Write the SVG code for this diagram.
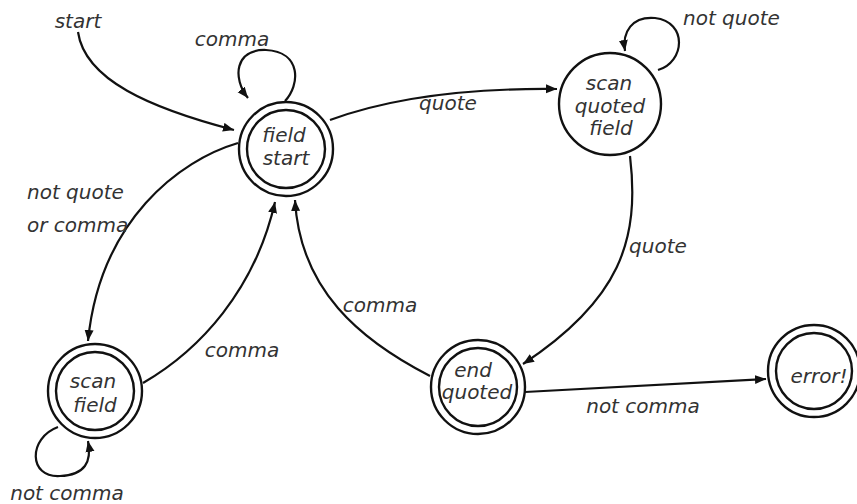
<svg xmlns="http://www.w3.org/2000/svg" width="857" height="504" viewBox="0 0 857 504">
<style>
.st{fill:none;stroke:#111;stroke-width:2.4}
.c{fill:none;stroke:#111;stroke-width:2.2}
text{font-family:"DejaVu Sans",Verdana,sans-serif;font-style:italic;font-size:20px;fill:#333}
.m{text-anchor:middle}
</style>
<defs>
<marker id="ah" markerUnits="userSpaceOnUse" markerWidth="12" markerHeight="10" refX="11" refY="5" orient="auto">
<path d="M0,0.5 L11,5 L0,9.5 Z" fill="#111"/>
</marker>
</defs>
<rect width="857" height="504" fill="#fff"/>
<g id="connectors">
<path class="c" d="M78,32 C85,80 150,108 234,130" marker-end="url(#ah)"/>
<path class="c" d="M285,101 C300,85 302,52 266,50 C235,49 232,78 248,98" marker-end="url(#ah)"/>
<path class="c" d="M330,120 C390,98 470,88 557,89" marker-end="url(#ah)"/>
<path class="c" d="M658,70 C685,62 688,22 655,18 C632,16 622,32 625,51" marker-end="url(#ah)"/>
<path class="c" d="M630,156 C640,240 620,300 523,364" marker-end="url(#ah)"/>
<path class="c" d="M430,376 C360,340 300,290 295,200" marker-end="url(#ah)"/>
<path class="c" d="M143,383 C200,350 255,290 275,202" marker-end="url(#ah)"/>
<path class="c" d="M238,143 C180,160 100,220 88,341" marker-end="url(#ah)"/>
<path class="c" d="M58,427 C28,438 28,478 60,476 C85,475 92,462 88,441" marker-end="url(#ah)"/>
<path class="c" d="M525,392 L766,379" marker-end="url(#ah)"/>
</g>
<g id="labels">
<text x="78" y="28" class="m">start</text>
<text x="232" y="46" class="m">comma</text>
<text x="448" y="110" class="m">quote</text>
<text x="683" y="25">not quote</text>
<text x="27" y="199">not quote</text>
<text x="27" y="232">or comma</text>
<text x="242" y="357" class="m">comma</text>
<text x="380" y="312" class="m">comma</text>
<text x="658" y="253" class="m">quote</text>
<text x="643" y="413" class="m">not comma</text>
<text x="67" y="500" class="m">not comma</text>
</g>
<g id="field-start">
<circle class="st" cx="286" cy="149" r="47"/>
<circle class="st" cx="286" cy="149" r="39"/>
<text x="284" y="142" class="m">field</text>
<text x="286" y="165" class="m">start</text>
</g>
<g id="scan-quoted-field">
<circle class="st" cx="610" cy="104" r="51"/>
<text x="609" y="90" class="m">scan</text>
<text x="610" y="113" class="m">quoted</text>
<text x="611" y="135" class="m">field</text>
</g>
<g id="scan-field">
<circle class="st" cx="95" cy="391" r="47"/>
<circle class="st" cx="95" cy="391" r="39"/>
<text x="93" y="388" class="m">scan</text>
<text x="95" y="412" class="m">field</text>
</g>
<g id="end-quoted">
<circle class="st" cx="478" cy="387" r="47"/>
<circle class="st" cx="478" cy="387" r="39"/>
<text x="473" y="377" class="m">end</text>
<text x="477" y="399" class="m">quoted</text>
</g>
<g id="error">
<circle class="st" cx="814" cy="371" r="46"/>
<circle class="st" cx="814" cy="371" r="38"/>
<text x="819" y="383" class="m">error!</text>
</g>
</svg>
